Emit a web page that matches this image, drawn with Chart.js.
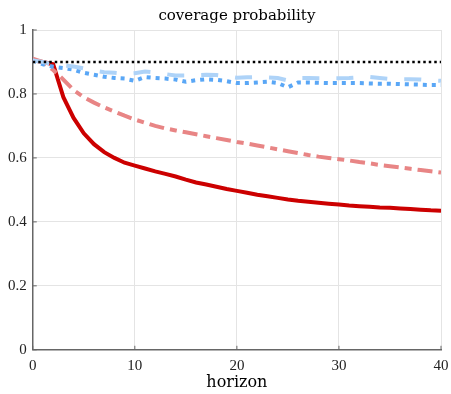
<!DOCTYPE html>
<html>
<head>
<meta charset="utf-8">
<script src="https://cdn.jsdelivr.net/npm/chart.js@4"></script>
<style>
  html, body { margin: 0; padding: 0; background: #fff; }
  #wrap { width: 451px; height: 394px; }
</style>
</head>
<body>
<div id="wrap"><canvas id="chart" width="451" height="394"></canvas></div>
<script>
// horizons 0..40
const horizons = Array.from({length: 41}, (_, i) => i);

// coverage series
const solidRed = [0.905, 0.900, 0.893, 0.790, 0.725, 0.677, 0.643, 0.618, 0.600, 0.585,
  0.576, 0.567, 0.558, 0.550, 0.542, 0.532, 0.523, 0.517, 0.510, 0.503,
  0.497, 0.491, 0.485, 0.480, 0.475, 0.470, 0.466, 0.463, 0.460, 0.457,
  0.454, 0.451, 0.449, 0.447, 0.445, 0.444, 0.442, 0.440, 0.438, 0.436, 0.435];
const dashedPink = [0.910, 0.900, 0.875, 0.845, 0.812, 0.790, 0.773, 0.758, 0.745, 0.732,
  0.720, 0.710, 0.700, 0.692, 0.686, 0.680, 0.674, 0.668, 0.662, 0.656,
  0.650, 0.645, 0.639, 0.633, 0.627, 0.621, 0.615, 0.609, 0.604, 0.600,
  0.596, 0.592, 0.587, 0.583, 0.578, 0.574, 0.570, 0.566, 0.562, 0.558, 0.554];
const dashedLightBlue = [0.905, 0.900, 0.892, 0.889, 0.886, 0.880, 0.873, 0.868, 0.866, 0.863,
  0.865, 0.870, 0.867, 0.862, 0.858, 0.858, 0.859, 0.860, 0.859, 0.855,
  0.851, 0.852, 0.853, 0.852, 0.850, 0.842, 0.850, 0.850, 0.849, 0.849,
  0.849, 0.850, 0.852, 0.853, 0.850, 0.847, 0.846, 0.846, 0.845, 0.843, 0.841];
const dottedBlue = [0.905, 0.893, 0.885, 0.881, 0.876, 0.866, 0.860, 0.854, 0.850, 0.848,
  0.841, 0.853, 0.850, 0.848, 0.845, 0.838, 0.843, 0.846, 0.844, 0.840,
  0.834, 0.834, 0.836, 0.838, 0.834, 0.821, 0.836, 0.836, 0.835, 0.834,
  0.834, 0.834, 0.834, 0.833, 0.832, 0.832, 0.831, 0.830, 0.829, 0.828, 0.828];
const nominal = horizons.map(() => 0.9);

const xTicks = [0, 10, 20, 30, 40];
const yTicks = [0, 0.2, 0.4, 0.6, 0.8, 1];

const NUM_FONT = "'Liberation Serif', 'DejaVu Serif', serif";
const TEXT_FONT = "'DejaVu Serif', serif";

// small inward tick marks like the original
const innerTicks = {
  id: 'innerTicks',
  afterDatasetsDraw(chart) {
    const {ctx, chartArea, scales} = chart;
    ctx.save();
    ctx.strokeStyle = '#666';
    ctx.lineWidth = 1;
    xTicks.forEach(v => {
      const px = scales.x.getPixelForValue(v);
      ctx.beginPath();
      ctx.moveTo(px, chartArea.bottom);
      ctx.lineTo(px, chartArea.bottom - 4);
      ctx.stroke();
    });
    yTicks.forEach(v => {
      const py = scales.y.getPixelForValue(v);
      ctx.beginPath();
      ctx.moveTo(chartArea.left, py);
      ctx.lineTo(chartArea.left + 4, py);
      ctx.stroke();
    });
    ctx.restore();
  }
};

function toPoints(arr) {
  return arr.map((v, i) => ({x: horizons[i], y: v}));
}

new Chart(document.getElementById('chart'), {
  type: 'line',
  data: {
    datasets: [
      {data: toPoints(nominal), borderColor: '#000', borderWidth: 2.5, borderDash: [2.5, 3], pointRadius: 0, tension: 0},
      {data: toPoints(dashedLightBlue), borderColor: '#aed3f8', borderWidth: 4, borderDash: [17, 17], pointRadius: 0, tension: 0},
      {data: toPoints(dottedBlue), borderColor: '#5aa7f6', borderWidth: 4, borderDash: [4, 5], pointRadius: 0, tension: 0},
      {data: toPoints(dashedPink), borderColor: '#e88585', borderWidth: 4, borderDash: [15, 6, 7, 6], pointRadius: 0, tension: 0},
      {data: toPoints(solidRed), borderColor: '#cc0000', borderWidth: 4, pointRadius: 0, tension: 0}
    ]
  },
  options: {
    responsive: false,
    animation: false,
    layout: {padding: {left: 2, right: 1, top: 7, bottom: 2}},
    plugins: {
      legend: {display: false},
      tooltip: {enabled: false},
      title: {
        display: true,
        text: 'coverage probability',
        fullSize: false,
        color: '#000',
        font: {family: TEXT_FONT, size: 15, weight: 'normal'},
        padding: {top: 0, bottom: 5}
      }
    },
    scales: {
      x: {
        type: 'linear',
        min: 0, max: 40,
        afterBuildTicks: s => { s.ticks = xTicks.map(v => ({value: v})); },
        afterFit: s => { s.paddingRight = 10; },
        ticks: {color: '#222', font: {family: NUM_FONT, size: 15}, padding: 7, maxRotation: 0},
        grid: {color: '#e4e4e4', lineWidth: 1, drawTicks: false},
        border: {color: '#666', width: 1.5},
        title: {display: true, text: 'horizon', color: '#000', font: {family: TEXT_FONT, size: 16}, padding: {top: -9, bottom: 0}}
      },
      y: {
        min: 0, max: 1,
        afterBuildTicks: s => { s.ticks = yTicks.map(v => ({value: v})); },
        ticks: {
          color: '#222', font: {family: NUM_FONT, size: 15}, padding: 6,
          callback: v => (v === 0 || v === 1) ? String(v) : v.toFixed(1)
        },
        grid: {color: '#e4e4e4', lineWidth: 1, drawTicks: false},
        border: {color: '#666', width: 1.5}
      }
    }
  },
  plugins: [innerTicks]
});
</script>
</body>
</html>
